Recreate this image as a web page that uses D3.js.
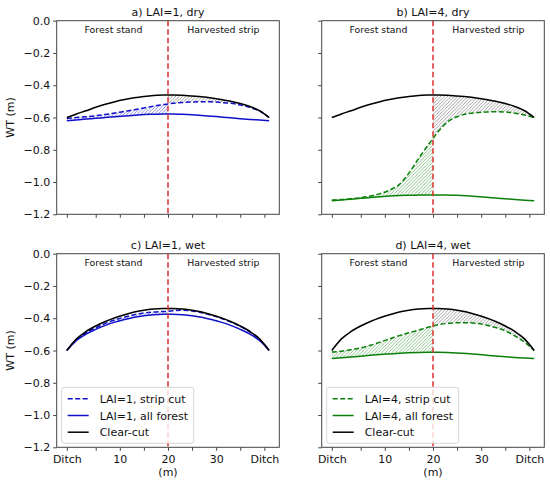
<!DOCTYPE html>
<html>
<head>
<meta charset="utf-8">
<script src="https://cdn.jsdelivr.net/npm/d3@7"></script>
<style>
body { margin: 0; background: #fff; }
text { font-family: "DejaVu Sans", sans-serif; }
</style>
</head>
<body>
<script>
// distance along the transect (m), ditch at both ends
var xs = [-1, 1, 3, 5, 7, 9, 11, 13, 15, 17, 19, 20, 21, 23, 25, 27, 29, 31, 33, 35, 37, 39, 41];

// water table depth (m)
var dryClearCut = [-0.600, -0.578, -0.558, -0.537, -0.518, -0.502, -0.489, -0.478, -0.470, -0.464, -0.461, -0.460,
                   -0.460, -0.462, -0.467, -0.472, -0.479, -0.488, -0.499, -0.513, -0.532, -0.558, -0.600];
var wetClearCut = [-0.600, -0.528, -0.482, -0.448, -0.420, -0.397, -0.378, -0.362, -0.350, -0.343, -0.340, -0.340,
                   -0.340, -0.343, -0.350, -0.362, -0.378, -0.397, -0.420, -0.448, -0.482, -0.528, -0.600];

var lai1DryStrip  = [-0.605, -0.600, -0.595, -0.589, -0.581, -0.572, -0.562, -0.552, -0.541, -0.530, -0.520, -0.516,
                     -0.512, -0.507, -0.504, -0.502, -0.503, -0.507, -0.512, -0.522, -0.537, -0.561, -0.600];
var lai1DryForest = [-0.620, -0.615, -0.610, -0.605, -0.600, -0.595, -0.590, -0.586, -0.582, -0.580, -0.578, -0.578,
                     -0.578, -0.580, -0.583, -0.587, -0.592, -0.597, -0.602, -0.607, -0.612, -0.616, -0.620];

var lai4DryStrip  = [-1.112, -1.109, -1.104, -1.097, -1.087, -1.072, -1.050, -1.015, -0.945, -0.855, -0.770, -0.730,
                     -0.690, -0.628, -0.595, -0.578, -0.570, -0.566, -0.564, -0.566, -0.573, -0.585, -0.600];
var lai4DryForest = [-1.116, -1.111, -1.106, -1.101, -1.096, -1.091, -1.087, -1.084, -1.082, -1.081, -1.080, -1.080,
                     -1.080, -1.081, -1.082, -1.085, -1.089, -1.094, -1.099, -1.104, -1.109, -1.113, -1.116];

var lai1WetStrip  = [-0.600, -0.534, -0.490, -0.459, -0.432, -0.410, -0.393, -0.378, -0.367, -0.361, -0.358, -0.357,
                     -0.353, -0.350, -0.355, -0.366, -0.381, -0.400, -0.423, -0.451, -0.485, -0.531, -0.600];
var lai1WetForest = [-0.600, -0.538, -0.498, -0.469, -0.444, -0.424, -0.408, -0.394, -0.384, -0.378, -0.375, -0.375,
                     -0.375, -0.378, -0.384, -0.394, -0.408, -0.424, -0.444, -0.469, -0.498, -0.538, -0.600];

var lai4WetStrip  = [-0.610, -0.604, -0.596, -0.584, -0.568, -0.548, -0.528, -0.508, -0.490, -0.474, -0.456, -0.448,
                     -0.441, -0.432, -0.428, -0.428, -0.432, -0.442, -0.458, -0.478, -0.510, -0.548, -0.600];
var lai4WetForest = [-0.650, -0.645, -0.640, -0.635, -0.630, -0.625, -0.621, -0.617, -0.614, -0.612, -0.611, -0.611,
                     -0.611, -0.612, -0.615, -0.619, -0.624, -0.629, -0.634, -0.639, -0.643, -0.647, -0.650];

var xTicks = [-1, 5, 10, 15, 20, 25, 30, 35, 40];
var xTickLabels = ["Ditch", "", "10", "", "20", "", "30", "", "Ditch"];
var yTicks = [0, -0.2, -0.4, -0.6, -0.8, -1.0, -1.2];
var cutAt = 20;

var width = 550, height = 484;
var pw = 222.6, ph = 193.6;
var blue = "#1010c8", green = "#0a800a";

var svg = d3.select("body").append("svg").attr("width", width).attr("height", height);
var defs = svg.append("defs");

function hatch(id, color) {
    var p = defs.append("pattern").attr("id", id)
        .attr("patternUnits", "userSpaceOnUse").attr("width", 3.4).attr("height", 3.4);
    p.append("path").attr("d", "M-1,1 L1,-1 M0,3.4 L3.4,0 M2.4,4.4 L4.4,2.4")
        .attr("stroke", color).attr("stroke-width", 0.8);
}
hatch("hBlue", "#7070dc");
hatch("hGreen", "#70b070");
hatch("hGray", "#8a8a8a");

var panels = [
    { title: "a) LAI=1, dry", left: 56.7, top: 20.7, strip: lai1DryStrip, forest: lai1DryForest, clear: dryClearCut,
      color: blue, hatchId: "hBlue", yLab: true, xLab: false, names: null },
    { title: "b) LAI=4, dry", left: 321.7, top: 20.7, strip: lai4DryStrip, forest: lai4DryForest, clear: dryClearCut,
      color: green, hatchId: "hGreen", yLab: false, xLab: false, names: null },
    { title: "c) LAI=1, wet", left: 56.7, top: 253.7, strip: lai1WetStrip, forest: lai1WetForest, clear: wetClearCut,
      color: blue, hatchId: "hBlue", yLab: true, xLab: true,
      names: ["LAI=1, strip cut", "LAI=1, all forest", "Clear-cut"] },
    { title: "d) LAI=4, wet", left: 321.7, top: 253.7, strip: lai4WetStrip, forest: lai4WetForest, clear: wetClearCut,
      color: green, hatchId: "hGreen", yLab: false, xLab: true,
      names: ["LAI=4, strip cut", "LAI=4, all forest", "Clear-cut"] }
];

panels.forEach(function (p) {
    var x = d3.scaleLinear().domain([-3.1, 43.1]).range([p.left, p.left + pw]);
    var y = d3.scaleLinear().domain([-1.2, 0]).range([p.top + ph, p.top]);
    var g = svg.append("g");

    var line = d3.line().x(function (d) { return x(d[0]); }).y(function (d) { return y(d[1]); })
        .curve(d3.curveMonotoneX);
    var area = d3.area().x(function (d) { return x(d[0]); })
        .y0(function (d) { return y(d[1]); }).y1(function (d) { return y(d[2]); })
        .curve(d3.curveMonotoneX);

    var left = [], right = [];
    xs.forEach(function (v, i) {
        if (v <= cutAt) left.push([v, p.forest[i], p.strip[i]]);
        if (v >= cutAt) right.push([v, p.strip[i], p.clear[i]]);
    });

    // hatched differences
    g.append("path").attr("d", area(left)).attr("fill", "url(#" + p.hatchId + ")");
    g.append("path").attr("d", area(right)).attr("fill", "url(#hGray)");

    function pts(arr) { return xs.map(function (v, i) { return [v, arr[i]]; }); }

    g.append("path").attr("d", line(pts(p.strip))).attr("fill", "none")
        .attr("stroke", p.color).attr("stroke-width", 1.5).attr("stroke-dasharray", "5,2.5");
    g.append("path").attr("d", line(pts(p.forest))).attr("fill", "none")
        .attr("stroke", p.color).attr("stroke-width", 1.5);
    g.append("path").attr("d", line(pts(p.clear))).attr("fill", "none")
        .attr("stroke", "#000").attr("stroke-width", 1.5);

    // strip edge
    g.append("line").attr("x1", x(cutAt)).attr("x2", x(cutAt)).attr("y1", p.top).attr("y2", p.top + ph)
        .attr("stroke", "#d9312b").attr("stroke-width", 1.5).attr("stroke-dasharray", "5.5,3");

    // axes
    var ya = d3.axisLeft(y).tickValues(yTicks).tickSize(3.5).tickPadding(3)
        .tickFormat(p.yLab ? d3.format(".1f") : "");
    var gy = g.append("g").attr("transform", "translate(" + p.left + ",0)").call(ya);
    var xa = d3.axisBottom(x).tickValues(xTicks).tickSize(3.5).tickPadding(4.5)
        .tickFormat(function (d, i) { return p.xLab ? xTickLabels[i] : ""; });
    var gx = g.append("g").attr("transform", "translate(0," + (p.top + ph) + ")").call(xa);
    [gx, gy].forEach(function (a) {
        a.select(".domain").remove();
        a.selectAll("line").attr("stroke", "#444");
        a.selectAll("text").attr("font-size", 11).attr("fill", "#111")
            .style("font-family", "DejaVu Sans, sans-serif");
    });

    g.append("rect").attr("x", p.left).attr("y", p.top).attr("width", pw).attr("height", ph)
        .attr("fill", "none").attr("stroke", "#444").attr("stroke-width", 1);

    g.append("text").attr("x", p.left + pw / 2).attr("y", p.top - 4.7).attr("text-anchor", "middle")
        .attr("font-size", 11).attr("fill", "#111").text(p.title);
    g.append("text").attr("x", x(8.7)).attr("y", p.top + 12).attr("text-anchor", "middle")
        .attr("font-size", 9.4).attr("fill", "#111").text("Forest stand");
    g.append("text").attr("x", x(31.5)).attr("y", p.top + 12).attr("text-anchor", "middle")
        .attr("font-size", 9.4).attr("fill", "#111").text("Harvested strip");

    if (p.yLab) {
        g.append("text").attr("transform", "translate(14," + (p.top + ph / 2) + ") rotate(-90)")
            .attr("text-anchor", "middle").attr("font-size", 11).attr("fill", "#111").text("WT (m)");
    }
    if (p.xLab) {
        g.append("text").attr("x", x(20)).attr("y", p.top + ph + 29).attr("text-anchor", "middle")
            .attr("font-size", 11).attr("fill", "#111").text("(m)");
    }

    if (p.names) {
        var lx = p.left + 5, ly = p.top + ph - 60;
        var lg = g.append("g");
        lg.append("rect").attr("x", lx).attr("y", ly).attr("width", 132).attr("height", 56).attr("rx", 2.5)
            .attr("fill", "#fff").attr("fill-opacity", 0.8).attr("stroke", "#ccc").attr("stroke-width", 0.8);
        var styles = [[p.color, "5,2.5"], [p.color, null], ["#000", null]];
        p.names.forEach(function (n, i) {
            var yy = ly + 11.5 + i * 16.7;
            lg.append("line").attr("x1", lx + 6).attr("x2", lx + 27).attr("y1", yy).attr("y2", yy)
                .attr("stroke", styles[i][0]).attr("stroke-width", 1.5)
                .attr("stroke-dasharray", styles[i][1]);
            lg.append("text").attr("x", lx + 38).attr("y", yy + 4).attr("font-size", 11)
                .attr("fill", "#111").text(n);
        });
    }
});
</script>
</body>
</html>
